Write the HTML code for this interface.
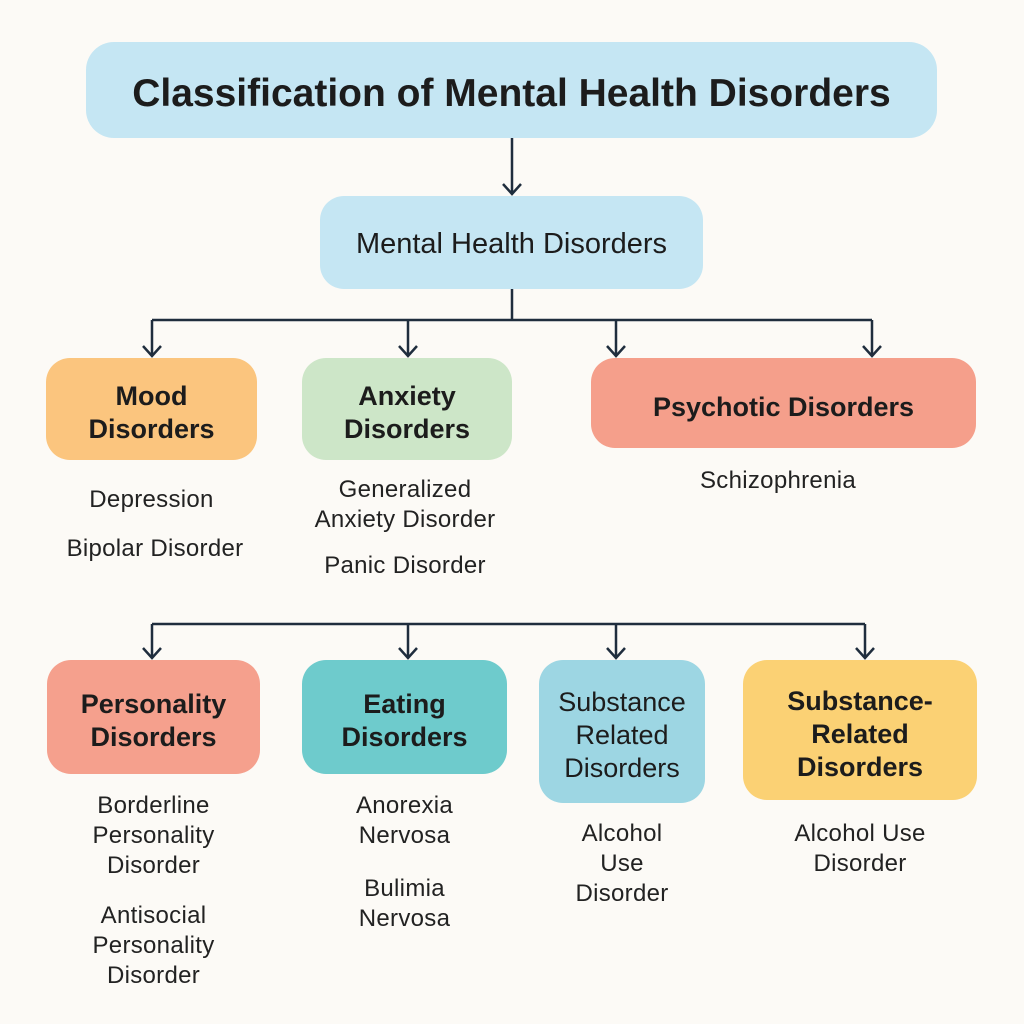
<!DOCTYPE html>
<html><head><meta charset="utf-8"><style>
html,body{margin:0;padding:0;}
body{width:1024px;height:1024px;background:#fcfaf6;position:relative;overflow:hidden;font-family:"Liberation Sans",sans-serif;color:#1a1a1a;}
.b{position:absolute;display:flex;align-items:center;justify-content:center;text-align:center;box-sizing:border-box;font-size:27px;line-height:33px;font-weight:bold;color:#1c1c1c;padding-top:8px;}
.t{position:absolute;text-align:center;font-size:24px;line-height:30px;color:#222;letter-spacing:0.3px;}
svg{position:absolute;left:0;top:0;}
</style></head><body>
<svg width="1024" height="1024" fill="none" stroke="#1f2d3d" stroke-width="2.5">
<path d="M512 138V194M503 184L512 194L521 184"/>
<path d="M512 289V320M152 320H872"/>
<path d="M152 320V356M408 320V356M616 320V356M872 320V356"/>
<path d="M143 346L152 356L161 346M399 346L408 356L417 346M607 346L616 356L625 346M863 346L872 356L881 346"/>
<path d="M152 624H865M152 624V658M408 624V658M616 624V658M865 624V658"/>
<path d="M143 648L152 658L161 648M399 648L408 658L417 648M607 648L616 658L625 648M856 648L865 658L874 648"/>
</svg>
<div class="b" style="left:86px;top:42px;width:851px;height:96px;background:#c5e6f3;border-radius:28px;font-size:39px;padding-top:6px;">Classification of Mental Health Disorders</div>
<div class="b" style="left:320px;top:196px;width:383px;height:93px;background:#c5e6f3;border-radius:24px;font-weight:normal;font-size:29px;padding-top:4px;">Mental Health Disorders</div>
<div class="b" style="left:46px;top:358px;width:211px;height:102px;background:#fbc57e;border-radius:24px;">Mood<br>Disorders</div>
<div class="b" style="left:302px;top:358px;width:210px;height:102px;background:#cde6c8;border-radius:24px;">Anxiety<br>Disorders</div>
<div class="b" style="left:591px;top:358px;width:385px;height:90px;background:#f59f8b;border-radius:24px;">Psychotic Disorders</div>
<div class="t" style="left:46px;top:485px;width:211px;">Depression</div>
<div class="t" style="left:40px;top:534px;width:230px;">Bipolar Disorder</div>
<div class="t" style="left:290px;top:475px;width:230px;">Generalized<br>Anxiety Disorder</div>
<div class="t" style="left:290px;top:551px;width:230px;">Panic Disorder</div>
<div class="t" style="left:638px;top:466px;width:280px;">Schizophrenia</div>
<div class="b" style="left:47px;top:660px;width:213px;height:114px;background:#f5a08d;border-radius:24px;">Personality<br>Disorders</div>
<div class="b" style="left:302px;top:660px;width:205px;height:114px;background:#6ecbcc;border-radius:24px;">Eating<br>Disorders</div>
<div class="b" style="left:539px;top:660px;width:166px;height:143px;background:#9dd6e3;border-radius:24px;font-weight:normal;font-size:27px;">Substance<br>Related<br>Disorders</div>
<div class="b" style="left:743px;top:660px;width:234px;height:140px;background:#fbd174;border-radius:24px;">Substance-<br>Related<br>Disorders</div>
<div class="t" style="left:47px;top:791px;width:213px;">Borderline<br>Personality<br>Disorder</div>
<div class="t" style="left:47px;top:901px;width:213px;">Antisocial<br>Personality<br>Disorder</div>
<div class="t" style="left:302px;top:791px;width:205px;">Anorexia<br>Nervosa</div>
<div class="t" style="left:302px;top:874px;width:205px;">Bulimia<br>Nervosa</div>
<div class="t" style="left:539px;top:819px;width:166px;">Alcohol<br>Use<br>Disorder</div>
<div class="t" style="left:743px;top:819px;width:234px;">Alcohol Use<br>Disorder</div>
</body></html>
